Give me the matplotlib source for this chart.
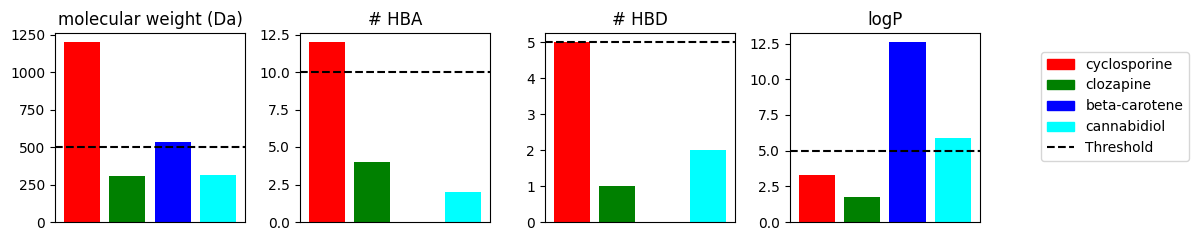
import matplotlib
matplotlib.use('Agg')
import matplotlib.pyplot as plt
from matplotlib.patches import Patch
from matplotlib.lines import Line2D

drugs = ['cyclosporine', 'clozapine', 'beta-carotene', 'cannabidiol']
colors = ['red', 'green', 'blue', 'cyan']

titles = ['molecular weight (Da)', '# HBA', '# HBD', 'logP']
mw = [1202.6, 306.0, 536.9, 314.5]
hba = [12, 4, 0, 2]
hbd = [5, 1, 0, 2]
logp = [3.27, 1.75, 12.61, 5.85]
thresholds = [500, 10, 5, 5]

values = [mw, hba, hbd, logp]

fig, axes = plt.subplots(1, 4, figsize=(11.98, 2.4), dpi=100)
fig.subplots_adjust(left=0.0459, right=0.818, top=0.8625, bottom=0.075, wspace=0.289)

for ax, title, vals, thr in zip(axes, titles, values, thresholds):
    ax.bar(range(len(drugs)), vals, color=colors)
    ax.axhline(thr, color='black', linestyle='--')
    ax.set_title(title)
    ax.set_xticks([])

# legend for the whole figure
handles = [Patch(color=c, label=d) for c, d in zip(colors, drugs)]
handles.append(Line2D([0], [0], color='black', linestyle='--', label='Threshold'))
fig.legend(handles=handles, loc='upper left', bbox_to_anchor=(1034/1198, 1-45/240))

fig.savefig('out.png', dpi=100)
